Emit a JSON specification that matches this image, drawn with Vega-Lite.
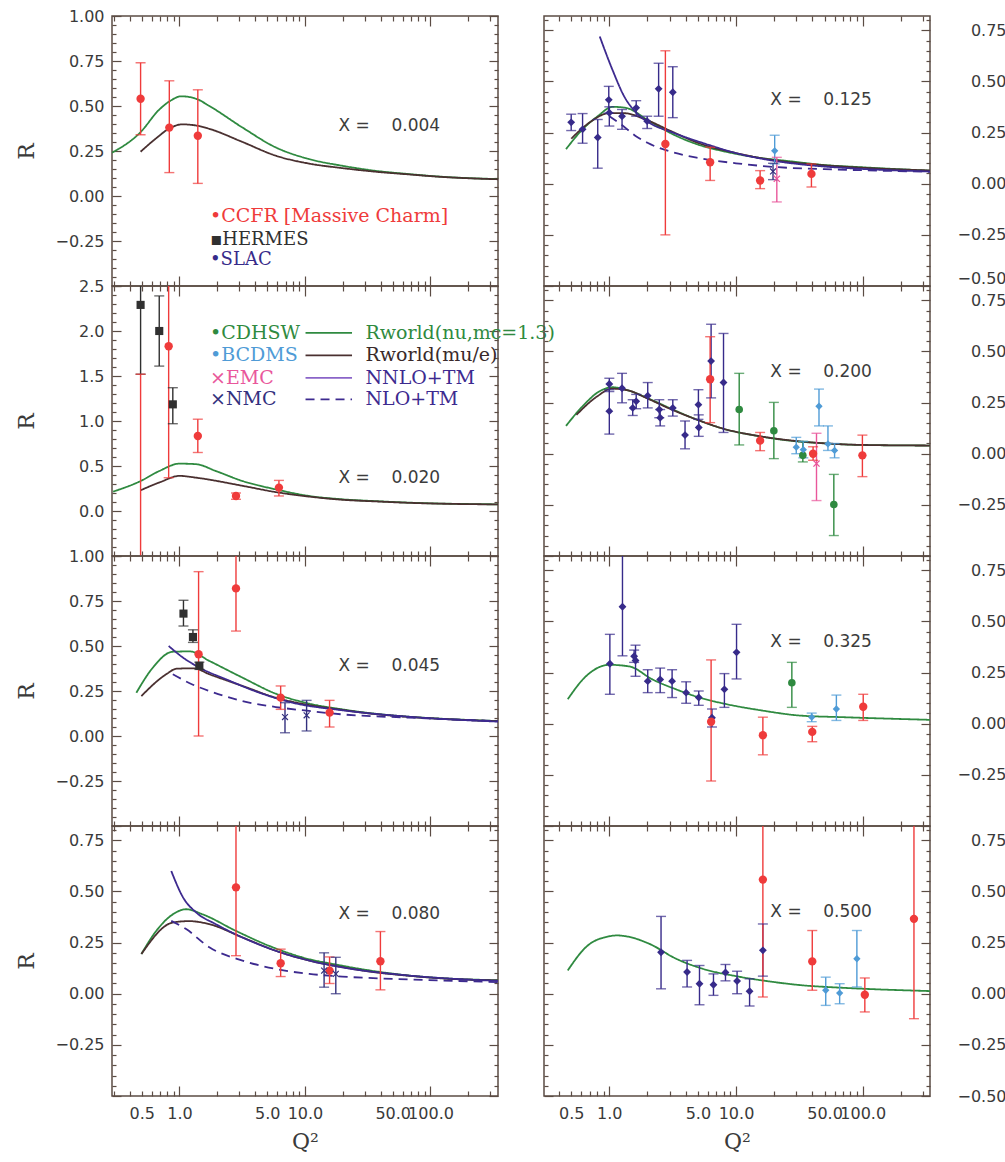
{
"$schema":"https://vega.github.io/schema/vega-lite/v6.json",
"padding":{"left":14,"top":7,"right":2,"bottom":2},
"background":"white",
"datasets":{
"crv":[
{"xbj":"0.004","series":"Rworld(nu,mc=1.3)","q2":0.29,"r":0.24},{"xbj":"0.004","series":"Rworld(nu,mc=1.3)","q2":0.49,"r":0.355},{"xbj":"0.004","series":"Rworld(nu,mc=1.3)","q2":0.69,"r":0.48},{"xbj":"0.004","series":"Rworld(nu,mc=1.3)","q2":0.85,"r":0.53},{"xbj":"0.004","series":"Rworld(nu,mc=1.3)","q2":1.03,"r":0.554},{"xbj":"0.004","series":"Rworld(nu,mc=1.3)","q2":1.36,"r":0.54},{"xbj":"0.004","series":"Rworld(nu,mc=1.3)","q2":1.73,"r":0.5},{"xbj":"0.004","series":"Rworld(nu,mc=1.3)","q2":3.18,"r":0.38},{"xbj":"0.004","series":"Rworld(nu,mc=1.3)","q2":5.85,"r":0.27},{"xbj":"0.004","series":"Rworld(nu,mc=1.3)","q2":10.8,"r":0.205},{"xbj":"0.004","series":"Rworld(nu,mc=1.3)","q2":19.8,"r":0.168},{"xbj":"0.004","series":"Rworld(nu,mc=1.3)","q2":36.4,"r":0.14},{"xbj":"0.004","series":"Rworld(nu,mc=1.3)","q2":66.9,"r":0.122},{"xbj":"0.004","series":"Rworld(nu,mc=1.3)","q2":123,"r":0.107},{"xbj":"0.004","series":"Rworld(nu,mc=1.3)","q2":345,"r":0.094},
{"xbj":"0.004","series":"Rworld(mu/e)","q2":0.49,"r":0.246},{"xbj":"0.004","series":"Rworld(mu/e)","q2":0.65,"r":0.32},{"xbj":"0.004","series":"Rworld(mu/e)","q2":0.83,"r":0.375},{"xbj":"0.004","series":"Rworld(mu/e)","q2":1.05,"r":0.398},{"xbj":"0.004","series":"Rworld(mu/e)","q2":1.4,"r":0.39},{"xbj":"0.004","series":"Rworld(mu/e)","q2":1.75,"r":0.372},{"xbj":"0.004","series":"Rworld(mu/e)","q2":3.18,"r":0.3},{"xbj":"0.004","series":"Rworld(mu/e)","q2":5.85,"r":0.224},{"xbj":"0.004","series":"Rworld(mu/e)","q2":10.8,"r":0.18},{"xbj":"0.004","series":"Rworld(mu/e)","q2":19.8,"r":0.155},{"xbj":"0.004","series":"Rworld(mu/e)","q2":36.4,"r":0.135},{"xbj":"0.004","series":"Rworld(mu/e)","q2":66.9,"r":0.12},{"xbj":"0.004","series":"Rworld(mu/e)","q2":123,"r":0.106},{"xbj":"0.004","series":"Rworld(mu/e)","q2":345,"r":0.093},
{"xbj":"0.020","series":"Rworld(nu,mc=1.3)","q2":0.296,"r":0.215},{"xbj":"0.020","series":"Rworld(nu,mc=1.3)","q2":0.49,"r":0.333},{"xbj":"0.020","series":"Rworld(nu,mc=1.3)","q2":0.69,"r":0.444},{"xbj":"0.020","series":"Rworld(nu,mc=1.3)","q2":1.0,"r":0.526},{"xbj":"0.020","series":"Rworld(nu,mc=1.3)","q2":1.36,"r":0.52},{"xbj":"0.020","series":"Rworld(nu,mc=1.3)","q2":1.95,"r":0.444},{"xbj":"0.020","series":"Rworld(nu,mc=1.3)","q2":3.18,"r":0.333},{"xbj":"0.020","series":"Rworld(nu,mc=1.3)","q2":5.85,"r":0.24},{"xbj":"0.020","series":"Rworld(nu,mc=1.3)","q2":10.8,"r":0.167},{"xbj":"0.020","series":"Rworld(nu,mc=1.3)","q2":19.8,"r":0.13},{"xbj":"0.020","series":"Rworld(nu,mc=1.3)","q2":36,"r":0.11},{"xbj":"0.020","series":"Rworld(nu,mc=1.3)","q2":67,"r":0.093},{"xbj":"0.020","series":"Rworld(nu,mc=1.3)","q2":345,"r":0.074},
{"xbj":"0.020","series":"Rworld(mu/e)","q2":0.49,"r":0.23},{"xbj":"0.020","series":"Rworld(mu/e)","q2":0.7,"r":0.32},{"xbj":"0.020","series":"Rworld(mu/e)","q2":1.0,"r":0.39},{"xbj":"0.020","series":"Rworld(mu/e)","q2":1.36,"r":0.37},{"xbj":"0.020","series":"Rworld(mu/e)","q2":3.18,"r":0.28},{"xbj":"0.020","series":"Rworld(mu/e)","q2":5.85,"r":0.21},{"xbj":"0.020","series":"Rworld(mu/e)","q2":10.8,"r":0.16},{"xbj":"0.020","series":"Rworld(mu/e)","q2":19.8,"r":0.125},{"xbj":"0.020","series":"Rworld(mu/e)","q2":36,"r":0.107},{"xbj":"0.020","series":"Rworld(mu/e)","q2":67,"r":0.091},{"xbj":"0.020","series":"Rworld(mu/e)","q2":345,"r":0.073},
{"xbj":"0.045","series":"Rworld(nu,mc=1.3)","q2":0.453,"r":0.24},{"xbj":"0.045","series":"Rworld(nu,mc=1.3)","q2":0.614,"r":0.38},{"xbj":"0.045","series":"Rworld(nu,mc=1.3)","q2":0.88,"r":0.468},{"xbj":"0.045","series":"Rworld(nu,mc=1.3)","q2":1.21,"r":0.47},{"xbj":"0.045","series":"Rworld(nu,mc=1.3)","q2":1.73,"r":0.417},{"xbj":"0.045","series":"Rworld(nu,mc=1.3)","q2":3.18,"r":0.324},{"xbj":"0.045","series":"Rworld(nu,mc=1.3)","q2":5.85,"r":0.235},{"xbj":"0.045","series":"Rworld(nu,mc=1.3)","q2":10.8,"r":0.18},{"xbj":"0.045","series":"Rworld(nu,mc=1.3)","q2":19.8,"r":0.148},{"xbj":"0.045","series":"Rworld(nu,mc=1.3)","q2":36,"r":0.124},{"xbj":"0.045","series":"Rworld(nu,mc=1.3)","q2":67,"r":0.107},{"xbj":"0.045","series":"Rworld(nu,mc=1.3)","q2":123,"r":0.096},{"xbj":"0.045","series":"Rworld(nu,mc=1.3)","q2":345,"r":0.083},
{"xbj":"0.045","series":"Rworld(mu/e)","q2":0.497,"r":0.222},{"xbj":"0.045","series":"Rworld(mu/e)","q2":0.784,"r":0.343},{"xbj":"0.045","series":"Rworld(mu/e)","q2":0.95,"r":0.374},{"xbj":"0.045","series":"Rworld(mu/e)","q2":1.3,"r":0.376},{"xbj":"0.045","series":"Rworld(mu/e)","q2":1.73,"r":0.343},{"xbj":"0.045","series":"Rworld(mu/e)","q2":3.18,"r":0.278},{"xbj":"0.045","series":"Rworld(mu/e)","q2":5.85,"r":0.213},{"xbj":"0.045","series":"Rworld(mu/e)","q2":10.8,"r":0.172},{"xbj":"0.045","series":"Rworld(mu/e)","q2":19.8,"r":0.145},{"xbj":"0.045","series":"Rworld(mu/e)","q2":36,"r":0.122},{"xbj":"0.045","series":"Rworld(mu/e)","q2":67,"r":0.106},{"xbj":"0.045","series":"Rworld(mu/e)","q2":123,"r":0.095},{"xbj":"0.045","series":"Rworld(mu/e)","q2":345,"r":0.082},
{"xbj":"0.045","series":"NNLO+TM","q2":0.82,"r":0.5},{"xbj":"0.045","series":"NNLO+TM","q2":1.07,"r":0.435},{"xbj":"0.045","series":"NNLO+TM","q2":1.44,"r":0.38},{"xbj":"0.045","series":"NNLO+TM","q2":2.35,"r":0.315},{"xbj":"0.045","series":"NNLO+TM","q2":4.31,"r":0.241},{"xbj":"0.045","series":"NNLO+TM","q2":7.96,"r":0.185},{"xbj":"0.045","series":"NNLO+TM","q2":19.8,"r":0.143},{"xbj":"0.045","series":"NNLO+TM","q2":67,"r":0.107},{"xbj":"0.045","series":"NNLO+TM","q2":345,"r":0.08},
{"xbj":"0.045","series":"NLO+TM","q2":0.885,"r":0.343},{"xbj":"0.045","series":"NLO+TM","q2":1.28,"r":0.285},{"xbj":"0.045","series":"NLO+TM","q2":1.73,"r":0.25},{"xbj":"0.045","series":"NLO+TM","q2":3.18,"r":0.194},{"xbj":"0.045","series":"NLO+TM","q2":5.85,"r":0.161},{"xbj":"0.045","series":"NLO+TM","q2":10.8,"r":0.139},{"xbj":"0.045","series":"NLO+TM","q2":19.8,"r":0.12},{"xbj":"0.045","series":"NLO+TM","q2":67,"r":0.102},{"xbj":"0.045","series":"NLO+TM","q2":345,"r":0.083},
{"xbj":"0.080","series":"Rworld(nu,mc=1.3)","q2":0.497,"r":0.194},{"xbj":"0.080","series":"Rworld(nu,mc=1.3)","q2":0.653,"r":0.307},{"xbj":"0.080","series":"Rworld(nu,mc=1.3)","q2":0.885,"r":0.388},{"xbj":"0.080","series":"Rworld(nu,mc=1.3)","q2":1.13,"r":0.413},{"xbj":"0.080","series":"Rworld(nu,mc=1.3)","q2":1.53,"r":0.388},{"xbj":"0.080","series":"Rworld(nu,mc=1.3)","q2":2.82,"r":0.307},{"xbj":"0.080","series":"Rworld(nu,mc=1.3)","q2":5.18,"r":0.234},{"xbj":"0.080","series":"Rworld(nu,mc=1.3)","q2":9.5,"r":0.178},{"xbj":"0.080","series":"Rworld(nu,mc=1.3)","q2":19.8,"r":0.137},{"xbj":"0.080","series":"Rworld(nu,mc=1.3)","q2":36,"r":0.11},{"xbj":"0.080","series":"Rworld(nu,mc=1.3)","q2":67,"r":0.089},{"xbj":"0.080","series":"Rworld(nu,mc=1.3)","q2":123,"r":0.076},{"xbj":"0.080","series":"Rworld(nu,mc=1.3)","q2":345,"r":0.066},
{"xbj":"0.080","series":"Rworld(mu/e)","q2":0.497,"r":0.194},{"xbj":"0.080","series":"Rworld(mu/e)","q2":0.885,"r":0.348},{"xbj":"0.080","series":"Rworld(mu/e)","q2":1.19,"r":0.355},{"xbj":"0.080","series":"Rworld(mu/e)","q2":1.73,"r":0.34},{"xbj":"0.080","series":"Rworld(mu/e)","q2":3.18,"r":0.275},{"xbj":"0.080","series":"Rworld(mu/e)","q2":5.85,"r":0.21},{"xbj":"0.080","series":"Rworld(mu/e)","q2":10.8,"r":0.162},{"xbj":"0.080","series":"Rworld(mu/e)","q2":19.8,"r":0.13},{"xbj":"0.080","series":"Rworld(mu/e)","q2":36,"r":0.105},{"xbj":"0.080","series":"Rworld(mu/e)","q2":67,"r":0.088},{"xbj":"0.080","series":"Rworld(mu/e)","q2":123,"r":0.075},{"xbj":"0.080","series":"Rworld(mu/e)","q2":345,"r":0.065},
{"xbj":"0.080","series":"NNLO+TM","q2":0.86,"r":0.6},{"xbj":"0.080","series":"NNLO+TM","q2":1.07,"r":0.47},{"xbj":"0.080","series":"NNLO+TM","q2":1.36,"r":0.397},{"xbj":"0.080","series":"NNLO+TM","q2":1.95,"r":0.34},{"xbj":"0.080","series":"NNLO+TM","q2":3.18,"r":0.275},{"xbj":"0.080","series":"NNLO+TM","q2":5.85,"r":0.21},{"xbj":"0.080","series":"NNLO+TM","q2":10.8,"r":0.162},{"xbj":"0.080","series":"NNLO+TM","q2":19.8,"r":0.129},{"xbj":"0.080","series":"NNLO+TM","q2":67,"r":0.089},{"xbj":"0.080","series":"NNLO+TM","q2":345,"r":0.063},
{"xbj":"0.080","series":"NLO+TM","q2":0.86,"r":0.356},{"xbj":"0.080","series":"NLO+TM","q2":1.13,"r":0.316},{"xbj":"0.080","series":"NLO+TM","q2":1.73,"r":0.227},{"xbj":"0.080","series":"NLO+TM","q2":3.18,"r":0.162},{"xbj":"0.080","series":"NLO+TM","q2":5.85,"r":0.121},{"xbj":"0.080","series":"NLO+TM","q2":10.8,"r":0.097},{"xbj":"0.080","series":"NLO+TM","q2":19.8,"r":0.084},{"xbj":"0.080","series":"NLO+TM","q2":67,"r":0.07},{"xbj":"0.080","series":"NLO+TM","q2":345,"r":0.057},
{"xbj":"0.125","series":"Rworld(nu,mc=1.3)","q2":0.455,"r":0.169},{"xbj":"0.125","series":"Rworld(nu,mc=1.3)","q2":0.615,"r":0.266},{"xbj":"0.125","series":"Rworld(nu,mc=1.3)","q2":0.81,"r":0.33},{"xbj":"0.125","series":"Rworld(nu,mc=1.3)","q2":1.06,"r":0.376},{"xbj":"0.125","series":"Rworld(nu,mc=1.3)","q2":1.35,"r":0.371},{"xbj":"0.125","series":"Rworld(nu,mc=1.3)","q2":2.07,"r":0.306},{"xbj":"0.125","series":"Rworld(nu,mc=1.3)","q2":3.17,"r":0.242},{"xbj":"0.125","series":"Rworld(nu,mc=1.3)","q2":5.15,"r":0.189},{"xbj":"0.125","series":"Rworld(nu,mc=1.3)","q2":8.37,"r":0.156},{"xbj":"0.125","series":"Rworld(nu,mc=1.3)","q2":14.4,"r":0.129},{"xbj":"0.125","series":"Rworld(nu,mc=1.3)","q2":26.5,"r":0.11},{"xbj":"0.125","series":"Rworld(nu,mc=1.3)","q2":48.7,"r":0.092},{"xbj":"0.125","series":"Rworld(nu,mc=1.3)","q2":95,"r":0.081},{"xbj":"0.125","series":"Rworld(nu,mc=1.3)","q2":339,"r":0.064},
{"xbj":"0.125","series":"Rworld(mu/e)","q2":0.5,"r":0.22},{"xbj":"0.125","series":"Rworld(mu/e)","q2":0.7,"r":0.3},{"xbj":"0.125","series":"Rworld(mu/e)","q2":1.0,"r":0.345},{"xbj":"0.125","series":"Rworld(mu/e)","q2":1.3,"r":0.345},{"xbj":"0.125","series":"Rworld(mu/e)","q2":2.0,"r":0.31},{"xbj":"0.125","series":"Rworld(mu/e)","q2":3.0,"r":0.26},{"xbj":"0.125","series":"Rworld(mu/e)","q2":5.0,"r":0.2},{"xbj":"0.125","series":"Rworld(mu/e)","q2":10,"r":0.15},{"xbj":"0.125","series":"Rworld(mu/e)","q2":20,"r":0.115},{"xbj":"0.125","series":"Rworld(mu/e)","q2":50,"r":0.09},{"xbj":"0.125","series":"Rworld(mu/e)","q2":100,"r":0.078},{"xbj":"0.125","series":"Rworld(mu/e)","q2":339,"r":0.065},
{"xbj":"0.125","series":"NNLO+TM","q2":0.84,"r":0.72},{"xbj":"0.125","series":"NNLO+TM","q2":1.06,"r":0.556},{"xbj":"0.125","series":"NNLO+TM","q2":1.31,"r":0.427},{"xbj":"0.125","series":"NNLO+TM","q2":1.63,"r":0.347},{"xbj":"0.125","series":"NNLO+TM","q2":2.07,"r":0.298},{"xbj":"0.125","series":"NNLO+TM","q2":3.17,"r":0.25},{"xbj":"0.125","series":"NNLO+TM","q2":5.8,"r":0.194},{"xbj":"0.125","series":"NNLO+TM","q2":10.7,"r":0.145},{"xbj":"0.125","series":"NNLO+TM","q2":19.5,"r":0.113},{"xbj":"0.125","series":"NNLO+TM","q2":35.9,"r":0.092},{"xbj":"0.125","series":"NNLO+TM","q2":95,"r":0.073},{"xbj":"0.125","series":"NNLO+TM","q2":339,"r":0.06},
{"xbj":"0.125","series":"NLO+TM","q2":1.0,"r":0.33},{"xbj":"0.125","series":"NLO+TM","q2":1.3,"r":0.28},{"xbj":"0.125","series":"NLO+TM","q2":1.6,"r":0.235},{"xbj":"0.125","series":"NLO+TM","q2":2.0,"r":0.2},{"xbj":"0.125","series":"NLO+TM","q2":3.0,"r":0.158},{"xbj":"0.125","series":"NLO+TM","q2":5.0,"r":0.126},{"xbj":"0.125","series":"NLO+TM","q2":10,"r":0.1},{"xbj":"0.125","series":"NLO+TM","q2":20,"r":0.082},{"xbj":"0.125","series":"NLO+TM","q2":50,"r":0.071},{"xbj":"0.125","series":"NLO+TM","q2":100,"r":0.066},{"xbj":"0.125","series":"NLO+TM","q2":339,"r":0.058},
{"xbj":"0.200","series":"Rworld(nu,mc=1.3)","q2":0.455,"r":0.136},{"xbj":"0.200","series":"Rworld(nu,mc=1.3)","q2":0.615,"r":0.232},{"xbj":"0.200","series":"Rworld(nu,mc=1.3)","q2":0.83,"r":0.304},{"xbj":"0.200","series":"Rworld(nu,mc=1.3)","q2":1.06,"r":0.325},{"xbj":"0.200","series":"Rworld(nu,mc=1.3)","q2":1.35,"r":0.313},{"xbj":"0.200","series":"Rworld(nu,mc=1.3)","q2":2.07,"r":0.268},{"xbj":"0.200","series":"Rworld(nu,mc=1.3)","q2":3.17,"r":0.216},{"xbj":"0.200","series":"Rworld(nu,mc=1.3)","q2":4.85,"r":0.168},{"xbj":"0.200","series":"Rworld(nu,mc=1.3)","q2":7.86,"r":0.123},{"xbj":"0.200","series":"Rworld(nu,mc=1.3)","q2":14.4,"r":0.088},{"xbj":"0.200","series":"Rworld(nu,mc=1.3)","q2":26.5,"r":0.064},{"xbj":"0.200","series":"Rworld(nu,mc=1.3)","q2":48.7,"r":0.051},{"xbj":"0.200","series":"Rworld(nu,mc=1.3)","q2":95,"r":0.043},{"xbj":"0.200","series":"Rworld(nu,mc=1.3)","q2":339,"r":0.04},
{"xbj":"0.200","series":"Rworld(mu/e)","q2":0.55,"r":0.19},{"xbj":"0.200","series":"Rworld(mu/e)","q2":0.8,"r":0.28},{"xbj":"0.200","series":"Rworld(mu/e)","q2":1.05,"r":0.318},{"xbj":"0.200","series":"Rworld(mu/e)","q2":1.4,"r":0.31},{"xbj":"0.200","series":"Rworld(mu/e)","q2":2.0,"r":0.27},{"xbj":"0.200","series":"Rworld(mu/e)","q2":3.0,"r":0.22},{"xbj":"0.200","series":"Rworld(mu/e)","q2":5.0,"r":0.165},{"xbj":"0.200","series":"Rworld(mu/e)","q2":8.0,"r":0.122},{"xbj":"0.200","series":"Rworld(mu/e)","q2":15,"r":0.087},{"xbj":"0.200","series":"Rworld(mu/e)","q2":30,"r":0.062},{"xbj":"0.200","series":"Rworld(mu/e)","q2":50,"r":0.051},{"xbj":"0.200","series":"Rworld(mu/e)","q2":100,"r":0.043},{"xbj":"0.200","series":"Rworld(mu/e)","q2":339,"r":0.04},
{"xbj":"0.325","series":"Rworld(nu,mc=1.3)","q2":0.47,"r":0.12},{"xbj":"0.325","series":"Rworld(nu,mc=1.3)","q2":0.654,"r":0.232},{"xbj":"0.325","series":"Rworld(nu,mc=1.3)","q2":1.0,"r":0.288},{"xbj":"0.325","series":"Rworld(nu,mc=1.3)","q2":1.44,"r":0.28},{"xbj":"0.325","series":"Rworld(nu,mc=1.3)","q2":2.2,"r":0.216},{"xbj":"0.325","series":"Rworld(nu,mc=1.3)","q2":3.37,"r":0.168},{"xbj":"0.325","series":"Rworld(nu,mc=1.3)","q2":5.15,"r":0.128},{"xbj":"0.325","series":"Rworld(nu,mc=1.3)","q2":8.37,"r":0.096},{"xbj":"0.325","series":"Rworld(nu,mc=1.3)","q2":16.3,"r":0.064},{"xbj":"0.325","series":"Rworld(nu,mc=1.3)","q2":31.8,"r":0.04},{"xbj":"0.325","series":"Rworld(nu,mc=1.3)","q2":70,"r":0.032},{"xbj":"0.325","series":"Rworld(nu,mc=1.3)","q2":339,"r":0.019},
{"xbj":"0.500","series":"Rworld(nu,mc=1.3)","q2":0.47,"r":0.114},{"xbj":"0.500","series":"Rworld(nu,mc=1.3)","q2":0.654,"r":0.228},{"xbj":"0.500","series":"Rworld(nu,mc=1.3)","q2":1.0,"r":0.281},{"xbj":"0.500","series":"Rworld(nu,mc=1.3)","q2":1.15,"r":0.285},{"xbj":"0.500","series":"Rworld(nu,mc=1.3)","q2":1.35,"r":0.281},{"xbj":"0.500","series":"Rworld(nu,mc=1.3)","q2":2.07,"r":0.244},{"xbj":"0.500","series":"Rworld(nu,mc=1.3)","q2":3.37,"r":0.171},{"xbj":"0.500","series":"Rworld(nu,mc=1.3)","q2":5.47,"r":0.122},{"xbj":"0.500","series":"Rworld(nu,mc=1.3)","q2":10.0,"r":0.086},{"xbj":"0.500","series":"Rworld(nu,mc=1.3)","q2":18.4,"r":0.06},{"xbj":"0.500","series":"Rworld(nu,mc=1.3)","q2":33.7,"r":0.041},{"xbj":"0.500","series":"Rworld(nu,mc=1.3)","q2":70,"r":0.029},{"xbj":"0.500","series":"Rworld(nu,mc=1.3)","q2":339,"r":0.013}
],
"pts":[
{"xbj":"0.004","series":"CCFR","q2":0.49,"r":0.54,"lo":0.34,"hi":0.74},{"xbj":"0.004","series":"CCFR","q2":0.83,"r":0.38,"lo":0.13,"hi":0.64},{"xbj":"0.004","series":"CCFR","q2":1.4,"r":0.335,"lo":0.07,"hi":0.59},
{"xbj":"0.020","series":"HERMES","q2":0.49,"r":2.29,"lo":1.52,"hi":3.1},{"xbj":"0.020","series":"HERMES","q2":0.69,"r":2.0,"lo":1.61,"hi":2.39},{"xbj":"0.020","series":"HERMES","q2":0.885,"r":1.185,"lo":0.97,"hi":1.37},
{"xbj":"0.020","series":"CCFR","q2":0.49,"r":-1.0,"lo":-2.0,"hi":1.52},{"xbj":"0.020","series":"CCFR","q2":0.82,"r":1.83,"lo":0.37,"hi":3.2},{"xbj":"0.020","series":"CCFR","q2":1.4,"r":0.833,"lo":0.65,"hi":1.02},{"xbj":"0.020","series":"CCFR","q2":2.82,"r":0.167,"lo":0.13,"hi":0.2},{"xbj":"0.020","series":"CCFR","q2":6.2,"r":0.26,"lo":0.167,"hi":0.34},
{"xbj":"0.045","series":"HERMES","q2":1.076,"r":0.68,"lo":0.611,"hi":0.754},{"xbj":"0.045","series":"HERMES","q2":1.28,"r":0.55,"lo":0.52,"hi":0.59},{"xbj":"0.045","series":"HERMES","q2":1.44,"r":0.39,"lo":0.37,"hi":0.41},
{"xbj":"0.045","series":"CCFR","q2":1.42,"r":0.454,"lo":0.0,"hi":0.913},{"xbj":"0.045","series":"CCFR","q2":2.82,"r":0.82,"lo":0.583,"hi":1.05},{"xbj":"0.045","series":"CCFR","q2":6.4,"r":0.213,"lo":0.148,"hi":0.278},{"xbj":"0.045","series":"CCFR","q2":15.7,"r":0.13,"lo":0.05,"hi":0.198},
{"xbj":"0.045","series":"NMC","q2":6.93,"r":0.105,"lo":0.018,"hi":0.185},{"xbj":"0.045","series":"NMC","q2":10.3,"r":0.115,"lo":0.028,"hi":0.198},
{"xbj":"0.080","series":"CCFR","q2":2.82,"r":0.52,"lo":0.186,"hi":0.85},{"xbj":"0.080","series":"CCFR","q2":6.4,"r":0.149,"lo":0.084,"hi":0.218},{"xbj":"0.080","series":"CCFR","q2":15.7,"r":0.113,"lo":0.05,"hi":0.18},{"xbj":"0.080","series":"CCFR","q2":39.9,"r":0.159,"lo":0.019,"hi":0.304},
{"xbj":"0.080","series":"NMC","q2":14.2,"r":0.113,"lo":0.032,"hi":0.2},{"xbj":"0.080","series":"NMC","q2":17.6,"r":0.097,"lo":0.0,"hi":0.178},
{"xbj":"0.125","series":"SLAC","q2":0.5,"r":0.3,"lo":0.26,"hi":0.34},{"xbj":"0.125","series":"SLAC","q2":0.615,"r":0.266,"lo":0.198,"hi":0.343},{"xbj":"0.125","series":"SLAC","q2":0.81,"r":0.226,"lo":0.076,"hi":0.314},{"xbj":"0.125","series":"SLAC","q2":0.99,"r":0.41,"lo":0.345,"hi":0.476},{"xbj":"0.125","series":"SLAC","q2":1.0,"r":0.347,"lo":0.282,"hi":0.376},{"xbj":"0.125","series":"SLAC","q2":1.26,"r":0.33,"lo":0.266,"hi":0.363},{"xbj":"0.125","series":"SLAC","q2":1.63,"r":0.371,"lo":0.33,"hi":0.406},{"xbj":"0.125","series":"SLAC","q2":1.99,"r":0.306,"lo":0.27,"hi":0.33},{"xbj":"0.125","series":"SLAC","q2":2.45,"r":0.464,"lo":0.33,"hi":0.589},{"xbj":"0.125","series":"SLAC","q2":3.17,"r":0.447,"lo":0.323,"hi":0.572},
{"xbj":"0.125","series":"CCFR","q2":2.77,"r":0.194,"lo":-0.25,"hi":0.65},{"xbj":"0.125","series":"CCFR","q2":6.25,"r":0.105,"lo":0.016,"hi":0.178},{"xbj":"0.125","series":"CCFR","q2":15.5,"r":0.016,"lo":-0.024,"hi":0.064},{"xbj":"0.125","series":"CCFR","q2":39.4,"r":0.048,"lo":-0.016,"hi":0.097},
{"xbj":"0.125","series":"BCDMS","q2":20.2,"r":0.161,"lo":0.097,"hi":0.237},{"xbj":"0.125","series":"EMC","q2":21.0,"r":0.024,"lo":-0.089,"hi":0.129},{"xbj":"0.125","series":"NMC","q2":19.6,"r":0.06,"lo":0.02,"hi":0.1},
{"xbj":"0.200","series":"SLAC","q2":1.0,"r":0.341,"lo":0.304,"hi":0.369},{"xbj":"0.200","series":"SLAC","q2":1.0,"r":0.208,"lo":0.096,"hi":0.313},{"xbj":"0.200","series":"SLAC","q2":1.26,"r":0.32,"lo":0.249,"hi":0.393},{"xbj":"0.200","series":"SLAC","q2":1.53,"r":0.224,"lo":0.187,"hi":0.264},{"xbj":"0.200","series":"SLAC","q2":1.63,"r":0.256,"lo":0.22,"hi":0.29},{"xbj":"0.200","series":"SLAC","q2":2.01,"r":0.284,"lo":0.224,"hi":0.348},{"xbj":"0.200","series":"SLAC","q2":2.48,"r":0.216,"lo":0.176,"hi":0.264},{"xbj":"0.200","series":"SLAC","q2":2.52,"r":0.176,"lo":0.136,"hi":0.216},{"xbj":"0.200","series":"SLAC","q2":3.17,"r":0.224,"lo":0.184,"hi":0.264},{"xbj":"0.200","series":"SLAC","q2":3.96,"r":0.091,"lo":0.024,"hi":0.16},{"xbj":"0.200","series":"SLAC","q2":5.05,"r":0.24,"lo":0.168,"hi":0.313},{"xbj":"0.200","series":"SLAC","q2":5.08,"r":0.128,"lo":0.085,"hi":0.19},{"xbj":"0.200","series":"SLAC","q2":6.36,"r":0.453,"lo":0.273,"hi":0.633},{"xbj":"0.200","series":"SLAC","q2":7.97,"r":0.348,"lo":0.104,"hi":0.588},
{"xbj":"0.200","series":"CCFR","q2":6.25,"r":0.364,"lo":0.152,"hi":0.572},{"xbj":"0.200","series":"CCFR","q2":15.5,"r":0.064,"lo":0.015,"hi":0.104},{"xbj":"0.200","series":"CCFR","q2":40.6,"r":0.0,"lo":-0.032,"hi":0.034},{"xbj":"0.200","series":"CCFR","q2":99.5,"r":-0.008,"lo":-0.112,"hi":0.091},
{"xbj":"0.200","series":"CDHSW","q2":10.6,"r":0.216,"lo":0.043,"hi":0.393},{"xbj":"0.200","series":"CDHSW","q2":19.9,"r":0.112,"lo":-0.024,"hi":0.251},{"xbj":"0.200","series":"CDHSW","q2":33.7,"r":-0.008,"lo":-0.04,"hi":0.06},{"xbj":"0.200","series":"CDHSW","q2":59.2,"r":-0.248,"lo":-0.4,"hi":-0.101},
{"xbj":"0.200","series":"BCDMS","q2":29.9,"r":0.032,"lo":0.0,"hi":0.08},{"xbj":"0.200","series":"BCDMS","q2":34,"r":0.02,"lo":-0.02,"hi":0.06},{"xbj":"0.200","series":"BCDMS","q2":45.2,"r":0.232,"lo":0.136,"hi":0.316},{"xbj":"0.200","series":"BCDMS","q2":53.2,"r":0.048,"lo":0.016,"hi":0.136},{"xbj":"0.200","series":"BCDMS","q2":60,"r":0.016,"lo":-0.02,"hi":0.05},
{"xbj":"0.200","series":"EMC","q2":43.2,"r":-0.048,"lo":-0.229,"hi":0.1},
{"xbj":"0.325","series":"SLAC","q2":1.01,"r":0.293,"lo":0.144,"hi":0.437},{"xbj":"0.325","series":"SLAC","q2":1.27,"r":0.572,"lo":0.332,"hi":0.85},{"xbj":"0.325","series":"SLAC","q2":1.57,"r":0.33,"lo":0.3,"hi":0.36},{"xbj":"0.325","series":"SLAC","q2":1.61,"r":0.309,"lo":0.232,"hi":0.384},{"xbj":"0.325","series":"SLAC","q2":2.01,"r":0.208,"lo":0.152,"hi":0.264},{"xbj":"0.325","series":"SLAC","q2":2.52,"r":0.216,"lo":0.152,"hi":0.272},{"xbj":"0.325","series":"SLAC","q2":3.13,"r":0.208,"lo":0.128,"hi":0.264},{"xbj":"0.325","series":"SLAC","q2":4.04,"r":0.152,"lo":0.1,"hi":0.205},{"xbj":"0.325","series":"SLAC","q2":5.08,"r":0.128,"lo":0.09,"hi":0.16},{"xbj":"0.325","series":"SLAC","q2":6.46,"r":0.029,"lo":-0.016,"hi":0.072},{"xbj":"0.325","series":"SLAC","q2":8.1,"r":0.168,"lo":0.08,"hi":0.245},{"xbj":"0.325","series":"SLAC","q2":10.1,"r":0.349,"lo":0.219,"hi":0.486},
{"xbj":"0.325","series":"CCFR","q2":6.36,"r":0.01,"lo":-0.28,"hi":0.312},{"xbj":"0.325","series":"CCFR","q2":16.3,"r":-0.056,"lo":-0.152,"hi":0.032},{"xbj":"0.325","series":"CCFR","q2":40,"r":-0.04,"lo":-0.088,"hi":-0.013},{"xbj":"0.325","series":"CCFR","q2":101,"r":0.083,"lo":0.016,"hi":0.144},
{"xbj":"0.325","series":"CDHSW","q2":27.6,"r":0.2,"lo":0.08,"hi":0.3},{"xbj":"0.325","series":"BCDMS","q2":39.6,"r":0.032,"lo":0.01,"hi":0.052},{"xbj":"0.325","series":"BCDMS","q2":62,"r":0.072,"lo":0.016,"hi":0.14},
{"xbj":"0.500","series":"SLAC","q2":2.56,"r":0.203,"lo":0.024,"hi":0.378},{"xbj":"0.500","series":"SLAC","q2":4.11,"r":0.106,"lo":0.033,"hi":0.163},{"xbj":"0.500","series":"SLAC","q2":5.15,"r":0.049,"lo":-0.054,"hi":0.138},{"xbj":"0.500","series":"SLAC","q2":6.64,"r":0.044,"lo":-0.008,"hi":0.097},{"xbj":"0.500","series":"SLAC","q2":8.26,"r":0.104,"lo":0.063,"hi":0.143},{"xbj":"0.500","series":"SLAC","q2":10.2,"r":0.062,"lo":0.0,"hi":0.11},{"xbj":"0.500","series":"SLAC","q2":12.8,"r":0.012,"lo":-0.06,"hi":0.073},{"xbj":"0.500","series":"SLAC","q2":16.3,"r":0.212,"lo":0.086,"hi":0.341},
{"xbj":"0.500","series":"CCFR","q2":16.3,"r":0.558,"lo":-0.016,"hi":0.9},{"xbj":"0.500","series":"CCFR","q2":40,"r":0.158,"lo":0.017,"hi":0.309},{"xbj":"0.500","series":"CCFR","q2":104,"r":-0.005,"lo":-0.089,"hi":0.077},{"xbj":"0.500","series":"CCFR","q2":254,"r":0.366,"lo":-0.122,"hi":0.85},
{"xbj":"0.500","series":"BCDMS","q2":51.1,"r":0.017,"lo":-0.057,"hi":0.081},{"xbj":"0.500","series":"BCDMS","q2":65.8,"r":0.003,"lo":-0.049,"hi":0.049},{"xbj":"0.500","series":"BCDMS","q2":90,"r":0.171,"lo":0.033,"hi":0.309}
]
},
"columns":2,
"spacing":{"row":0,"column":46},
"bounds":"flush",
"concat":[
{"width":386,"height":270,"resolve":{"axis":{"x":"independent","y":"independent"}},
"layer":[
{"data":{"name":"crv"},"transform":[{"filter":"datum.xbj==='0.004'"}],"mark":{"type":"line","strokeWidth":1.8,"interpolate":"monotone","clip":true},
"encoding":{"x":{"field":"q2","type":"quantitative","scale":{"type":"log","domain":[0.29,345],"nice":false},"axis":{"orient":"bottom","values":[0.3,0.4,0.5,0.6,0.7,0.8,0.9,1,2,3,4,5,6,7,8,9,10,20,30,40,50,60,70,80,90,100,200,300],"labels":false,"tickSize":{"condition":{"test":"indexof([1,10,100],datum.value)>=0","value":-10},"value":-5},"title":null}},
"y":{"field":"r","type":"quantitative","scale":{"domain":[-0.5,1.0],"nice":false,"zero":false},"axis":{"orient":"left","values":[-0.5,-0.45,-0.4,-0.35,-0.3,-0.25,-0.2,-0.15,-0.1,-0.05,0,0.05,0.1,0.15,0.2,0.25,0.3,0.35,0.4,0.45,0.5,0.55,0.6,0.65,0.7,0.75,0.8,0.85,0.9,0.95,1.0],"labelExpr":"datum.value > -0.4 && abs(datum.value*4-round(datum.value*4)) < 0.001 ? format(datum.value,'.2f') : ''","labelPadding":17,"tickSize":{"condition":{"test":"abs(datum.value*4-round(datum.value*4)) < 0.001","value":-9},"value":-4},"title":"R","titleX":-74,"titleY":135}},
"color":{"field":"series","type":"nominal","scale":{"domain":["CCFR","HERMES","SLAC","CDHSW","BCDMS","EMC","NMC","Rworld(nu,mc=1.3)","Rworld(mu/e)","NNLO+TM","NLO+TM"],"range":["#ef3b3b","#303030","#372b8a","#2f8a40","#4f9bd6","#e9579b","#33307e","#2f8a40","#4a3030","#3d2a8f","#3d2a8f"]},"legend":null},
"strokeDash":{"field":"series","type":"nominal","scale":{"domain":["Rworld(nu,mc=1.3)","Rworld(mu/e)","NNLO+TM","NLO+TM"],"range":[[1,0],[1,0],[1,0],[9,6]]},"legend":null}}},
{"data":{"name":"pts"},"transform":[{"filter":"datum.xbj==='0.004'"}],"mark":{"type":"rule","strokeWidth":1.4,"clip":true},
"encoding":{"x":{"field":"q2","type":"quantitative","scale":{"type":"log","domain":[0.29,345],"nice":false},"axis":{"orient":"top","values":[0.3,0.4,0.5,0.6,0.7,0.8,0.9,1,2,3,4,5,6,7,8,9,10,20,30,40,50,60,70,80,90,100,200,300],"labels":false,"tickSize":{"condition":{"test":"indexof([1,10,100],datum.value)>=0","value":-10},"value":-5},"title":null}},
"y":{"field":"lo","type":"quantitative","scale":{"domain":[-0.5,1.0],"nice":false,"zero":false},"axis":{"orient":"right","values":[-0.5,-0.45,-0.4,-0.35,-0.3,-0.25,-0.2,-0.15,-0.1,-0.05,0,0.05,0.1,0.15,0.2,0.25,0.3,0.35,0.4,0.45,0.5,0.55,0.6,0.65,0.7,0.75,0.8,0.85,0.9,0.95,1.0],"labels":false,"tickSize":{"condition":{"test":"abs(datum.value*4-round(datum.value*4)) < 0.001","value":-9},"value":-4},"title":null}},
"y2":{"field":"hi"},
"color":{"field":"series","type":"nominal","legend":null}}},
{"data":{"name":"pts"},"transform":[{"filter":"datum.xbj==='0.004'"}],"mark":{"type":"tick","orient":"horizontal","size":10,"thickness":1.4,"clip":true},
"encoding":{"x":{"field":"q2","type":"quantitative","scale":{"type":"log","domain":[0.29,345],"nice":false},"axis":null},"y":{"field":"lo","type":"quantitative","scale":{"domain":[-0.5,1.0],"nice":false,"zero":false},"axis":null},"color":{"field":"series","type":"nominal","legend":null}}},
{"data":{"name":"pts"},"transform":[{"filter":"datum.xbj==='0.004'"}],"mark":{"type":"tick","orient":"horizontal","size":10,"thickness":1.4,"clip":true},
"encoding":{"x":{"field":"q2","type":"quantitative","scale":{"type":"log","domain":[0.29,345],"nice":false},"axis":null},"y":{"field":"hi","type":"quantitative","scale":{"domain":[-0.5,1.0],"nice":false,"zero":false},"axis":null},"color":{"field":"series","type":"nominal","legend":null}}},
{"data":{"name":"pts"},"transform":[{"filter":"datum.xbj==='0.004'"}],"mark":{"type":"point","filled":true,"opacity":1,"clip":true},
"encoding":{"x":{"field":"q2","type":"quantitative","scale":{"type":"log","domain":[0.29,345],"nice":false},"axis":null},"y":{"field":"r","type":"quantitative","scale":{"domain":[-0.5,1.0],"nice":false,"zero":false},"axis":null},"color":{"field":"series","type":"nominal","legend":null},
"shape":{"field":"series","type":"nominal","scale":{"domain":["CCFR","HERMES","SLAC","CDHSW","BCDMS","EMC","NMC"],"range":["circle","square","diamond","circle","diamond","M-1,-0.75L-0.75,-1L0,-0.25L0.75,-1L1,-0.75L0.25,0L1,0.75L0.75,1L0,0.25L-0.75,1L-1,0.75L-0.25,0Z","M-1,-0.75L-0.75,-1L0,-0.25L0.75,-1L1,-0.75L0.25,0L1,0.75L0.75,1L0,0.25L-0.75,1L-1,0.75L-0.25,0Z"]},"legend":null},
"size":{"field":"series","type":"nominal","scale":{"domain":["CCFR","HERMES","SLAC","CDHSW","BCDMS","EMC","NMC"],"range":[70,45,38,10,36,45,45]},"legend":null}}},
{"data":{"values":[{}]},"mark":{"type":"text","font":"DejaVu Sans","fontSize":17,"color":"#3c3c3c","align":"center","baseline":"middle","text":"X\u00a0=\u00a0\u00a0\u00a0\u00a00.004"},
"encoding":{"x":{"datum":47,"type":"quantitative","scale":{"type":"log","domain":[0.29,345],"nice":false},"axis":null},"y":{"datum":0.39,"type":"quantitative","scale":{"domain":[-0.5,1.0],"nice":false,"zero":false},"axis":null}}},
{"data":{"values":[{}]},"mark":{"type":"text","font":"DejaVu Serif","fontSize":19,"color":"#ef3b3b","align":"left","baseline":"middle","text":"•CCFR [Massive Charm]"},
"encoding":{"x":{"datum":1.75,"type":"quantitative","scale":{"type":"log","domain":[0.29,345],"nice":false},"axis":null},"y":{"datum":-0.11,"type":"quantitative","scale":{"domain":[-0.5,1.0],"nice":false,"zero":false},"axis":null}}},
{"data":{"values":[{}]},"mark":{"type":"text","font":"DejaVu Serif","fontSize":18,"color":"#303030","align":"left","baseline":"middle","text":"▪HERMES"},
"encoding":{"x":{"datum":1.75,"type":"quantitative","scale":{"type":"log","domain":[0.29,345],"nice":false},"axis":null},"y":{"datum":-0.245,"type":"quantitative","scale":{"domain":[-0.5,1.0],"nice":false,"zero":false},"axis":null}}},
{"data":{"values":[{}]},"mark":{"type":"text","font":"DejaVu Serif","fontSize":18,"color":"#372b8a","align":"left","baseline":"middle","text":"•SLAC"},
"encoding":{"x":{"datum":1.75,"type":"quantitative","scale":{"type":"log","domain":[0.29,345],"nice":false},"axis":null},"y":{"datum":-0.357,"type":"quantitative","scale":{"domain":[-0.5,1.0],"nice":false,"zero":false},"axis":null}}}
]},
{"width":386,"height":270,"resolve":{"axis":{"x":"independent","y":"independent"}},
"layer":[
{"data":{"name":"crv"},"transform":[{"filter":"datum.xbj==='0.125'"}],"mark":{"type":"line","strokeWidth":1.8,"interpolate":"monotone","clip":true},
"encoding":{"x":{"field":"q2","type":"quantitative","scale":{"type":"log","domain":[0.305,340],"nice":false},"axis":{"orient":"bottom","values":[0.4,0.5,0.6,0.7,0.8,0.9,1,2,3,4,5,6,7,8,9,10,20,30,40,50,60,70,80,90,100,200,300],"labels":false,"tickSize":{"condition":{"test":"indexof([1,10,100],datum.value)>=0","value":-10},"value":-5},"title":null}},
"y":{"field":"r","type":"quantitative","scale":{"domain":[-0.5,0.82],"nice":false,"zero":false},"axis":{"orient":"right","values":[-0.5,-0.45,-0.4,-0.35,-0.3,-0.25,-0.2,-0.15,-0.1,-0.05,0,0.05,0.1,0.15,0.2,0.25,0.3,0.35,0.4,0.45,0.5,0.55,0.6,0.65,0.7,0.75,0.8],"labelExpr":"abs(datum.value*4-round(datum.value*4)) < 0.001 ? format(datum.value,'.2f') : ''","labelAlign":"right","labelBaseline":{"condition":{"test":"datum.value < -0.4","value":"bottom"},"value":"middle"},"labelPadding":85,"tickSize":{"condition":{"test":"abs(datum.value*4-round(datum.value*4)) < 0.001","value":-9},"value":-4},"title":null}},
"color":{"field":"series","type":"nominal","legend":null},
"strokeDash":{"field":"series","type":"nominal","legend":null}}},
{"data":{"name":"pts"},"transform":[{"filter":"datum.xbj==='0.125'"}],"mark":{"type":"rule","strokeWidth":1.4,"clip":true},
"encoding":{"x":{"field":"q2","type":"quantitative","scale":{"type":"log","domain":[0.305,340],"nice":false},"axis":{"orient":"top","values":[0.4,0.5,0.6,0.7,0.8,0.9,1,2,3,4,5,6,7,8,9,10,20,30,40,50,60,70,80,90,100,200,300],"labels":false,"tickSize":{"condition":{"test":"indexof([1,10,100],datum.value)>=0","value":-10},"value":-5},"title":null}},
"y":{"field":"lo","type":"quantitative","scale":{"domain":[-0.5,0.82],"nice":false,"zero":false},"axis":{"orient":"left","values":[-0.5,-0.45,-0.4,-0.35,-0.3,-0.25,-0.2,-0.15,-0.1,-0.05,0,0.05,0.1,0.15,0.2,0.25,0.3,0.35,0.4,0.45,0.5,0.55,0.6,0.65,0.7,0.75,0.8],"labels":false,"tickSize":{"condition":{"test":"abs(datum.value*4-round(datum.value*4)) < 0.001","value":-9},"value":-4},"title":null}},
"y2":{"field":"hi"},"color":{"field":"series","type":"nominal","legend":null}}},
{"data":{"name":"pts"},"transform":[{"filter":"datum.xbj==='0.125'"}],"mark":{"type":"tick","orient":"horizontal","size":10,"thickness":1.4,"clip":true},
"encoding":{"x":{"field":"q2","type":"quantitative","scale":{"type":"log","domain":[0.305,340],"nice":false},"axis":null},"y":{"field":"lo","type":"quantitative","scale":{"domain":[-0.5,0.82],"nice":false,"zero":false},"axis":null},"color":{"field":"series","type":"nominal","legend":null}}},
{"data":{"name":"pts"},"transform":[{"filter":"datum.xbj==='0.125'"}],"mark":{"type":"tick","orient":"horizontal","size":10,"thickness":1.4,"clip":true},
"encoding":{"x":{"field":"q2","type":"quantitative","scale":{"type":"log","domain":[0.305,340],"nice":false},"axis":null},"y":{"field":"hi","type":"quantitative","scale":{"domain":[-0.5,0.82],"nice":false,"zero":false},"axis":null},"color":{"field":"series","type":"nominal","legend":null}}},
{"data":{"name":"pts"},"transform":[{"filter":"datum.xbj==='0.125'"}],"mark":{"type":"point","filled":true,"opacity":1,"clip":true},
"encoding":{"x":{"field":"q2","type":"quantitative","scale":{"type":"log","domain":[0.305,340],"nice":false},"axis":null},"y":{"field":"r","type":"quantitative","scale":{"domain":[-0.5,0.82],"nice":false,"zero":false},"axis":null},"color":{"field":"series","type":"nominal","legend":null},"shape":{"field":"series","type":"nominal","legend":null},"size":{"field":"series","type":"nominal","legend":null}}},
{"data":{"values":[{}]},"mark":{"type":"text","font":"DejaVu Sans","fontSize":17,"color":"#3c3c3c","align":"center","baseline":"middle","text":"X\u00a0=\u00a0\u00a0\u00a0\u00a00.125"},
"encoding":{"x":{"datum":47,"type":"quantitative","scale":{"type":"log","domain":[0.305,340],"nice":false},"axis":null},"y":{"datum":0.41,"type":"quantitative","scale":{"domain":[-0.5,0.82],"nice":false,"zero":false},"axis":null}}}
]},
{"width":386,"height":270,"resolve":{"axis":{"x":"independent","y":"independent"}},
"layer":[
{"data":{"name":"crv"},"transform":[{"filter":"datum.xbj==='0.020'"}],"mark":{"type":"line","strokeWidth":1.8,"interpolate":"monotone","clip":true},
"encoding":{"x":{"field":"q2","type":"quantitative","scale":{"type":"log","domain":[0.29,345],"nice":false},"axis":{"orient":"bottom","values":[0.3,0.4,0.5,0.6,0.7,0.8,0.9,1,2,3,4,5,6,7,8,9,10,20,30,40,50,60,70,80,90,100,200,300],"labels":false,"tickSize":{"condition":{"test":"indexof([1,10,100],datum.value)>=0","value":-10},"value":-5},"title":null}},
"y":{"field":"r","type":"quantitative","scale":{"domain":[-0.5,2.5],"nice":false,"zero":false},"axis":{"orient":"left","values":[-0.5,-0.4,-0.3,-0.2,-0.1,0,0.1,0.2,0.3,0.4,0.5,0.6,0.7,0.8,0.9,1.0,1.1,1.2,1.3,1.4,1.5,1.6,1.7,1.8,1.9,2.0,2.1,2.2,2.3,2.4,2.5],"labelExpr":"datum.value > -0.4 && abs(datum.value*2-round(datum.value*2)) < 0.001 ? format(datum.value,'.1f') : ''","labelPadding":17,"tickSize":{"condition":{"test":"abs(datum.value*2-round(datum.value*2)) < 0.001","value":-9},"value":-4},"title":"R","titleX":-74,"titleY":135}},
"color":{"field":"series","type":"nominal","legend":null},
"strokeDash":{"field":"series","type":"nominal","legend":null}}},
{"data":{"name":"pts"},"transform":[{"filter":"datum.xbj==='0.020'"}],"mark":{"type":"rule","strokeWidth":1.4,"clip":true},
"encoding":{"x":{"field":"q2","type":"quantitative","scale":{"type":"log","domain":[0.29,345],"nice":false},"axis":{"orient":"top","values":[0.3,0.4,0.5,0.6,0.7,0.8,0.9,1,2,3,4,5,6,7,8,9,10,20,30,40,50,60,70,80,90,100,200,300],"labels":false,"tickSize":{"condition":{"test":"indexof([1,10,100],datum.value)>=0","value":-10},"value":-5},"title":null}},
"y":{"field":"lo","type":"quantitative","scale":{"domain":[-0.5,2.5],"nice":false,"zero":false},"axis":{"orient":"right","values":[-0.5,-0.4,-0.3,-0.2,-0.1,0,0.1,0.2,0.3,0.4,0.5,0.6,0.7,0.8,0.9,1.0,1.1,1.2,1.3,1.4,1.5,1.6,1.7,1.8,1.9,2.0,2.1,2.2,2.3,2.4,2.5],"labels":false,"tickSize":{"condition":{"test":"abs(datum.value*2-round(datum.value*2)) < 0.001","value":-9},"value":-4},"title":null}},
"y2":{"field":"hi"},"color":{"field":"series","type":"nominal","legend":null}}},
{"data":{"name":"pts"},"transform":[{"filter":"datum.xbj==='0.020'"}],"mark":{"type":"tick","orient":"horizontal","size":10,"thickness":1.4,"clip":true},
"encoding":{"x":{"field":"q2","type":"quantitative","scale":{"type":"log","domain":[0.29,345],"nice":false},"axis":null},"y":{"field":"lo","type":"quantitative","scale":{"domain":[-0.5,2.5],"nice":false,"zero":false},"axis":null},"color":{"field":"series","type":"nominal","legend":null}}},
{"data":{"name":"pts"},"transform":[{"filter":"datum.xbj==='0.020'"}],"mark":{"type":"tick","orient":"horizontal","size":10,"thickness":1.4,"clip":true},
"encoding":{"x":{"field":"q2","type":"quantitative","scale":{"type":"log","domain":[0.29,345],"nice":false},"axis":null},"y":{"field":"hi","type":"quantitative","scale":{"domain":[-0.5,2.5],"nice":false,"zero":false},"axis":null},"color":{"field":"series","type":"nominal","legend":null}}},
{"data":{"name":"pts"},"transform":[{"filter":"datum.xbj==='0.020'"}],"mark":{"type":"point","filled":true,"opacity":1,"clip":true},
"encoding":{"x":{"field":"q2","type":"quantitative","scale":{"type":"log","domain":[0.29,345],"nice":false},"axis":null},"y":{"field":"r","type":"quantitative","scale":{"domain":[-0.5,2.5],"nice":false,"zero":false},"axis":null},"color":{"field":"series","type":"nominal","legend":null},"shape":{"field":"series","type":"nominal","legend":null},"size":{"field":"series","type":"nominal","legend":null}}},
{"data":{"values":[{}]},"mark":{"type":"text","font":"DejaVu Sans","fontSize":17,"color":"#3c3c3c","align":"center","baseline":"middle","text":"X\u00a0=\u00a0\u00a0\u00a0\u00a00.020"},
"encoding":{"x":{"datum":47,"type":"quantitative","scale":{"type":"log","domain":[0.29,345],"nice":false},"axis":null},"y":{"datum":0.37,"type":"quantitative","scale":{"domain":[-0.5,2.5],"nice":false,"zero":false},"axis":null}}},
{"data":{"values":[{}]},"mark":{"type":"text","font":"DejaVu Serif","fontSize":19,"color":"#2f8a40","align":"left","baseline":"middle","text":"•CDHSW"},
"encoding":{"x":{"datum":1.75,"type":"quantitative","scale":{"type":"log","domain":[0.29,345],"nice":false},"axis":null},"y":{"datum":1.98,"type":"quantitative","scale":{"domain":[-0.5,2.5],"nice":false,"zero":false},"axis":null}}},
{"data":{"values":[{}]},"mark":{"type":"text","font":"DejaVu Serif","fontSize":19,"color":"#4f9bd6","align":"left","baseline":"middle","text":"•BCDMS"},
"encoding":{"x":{"datum":1.75,"type":"quantitative","scale":{"type":"log","domain":[0.29,345],"nice":false},"axis":null},"y":{"datum":1.73,"type":"quantitative","scale":{"domain":[-0.5,2.5],"nice":false,"zero":false},"axis":null}}},
{"data":{"values":[{}]},"mark":{"type":"text","font":"DejaVu Serif","fontSize":19,"color":"#e9579b","align":"left","baseline":"middle","text":"×EMC"},
"encoding":{"x":{"datum":1.75,"type":"quantitative","scale":{"type":"log","domain":[0.29,345],"nice":false},"axis":null},"y":{"datum":1.48,"type":"quantitative","scale":{"domain":[-0.5,2.5],"nice":false,"zero":false},"axis":null}}},
{"data":{"values":[{}]},"mark":{"type":"text","font":"DejaVu Serif","fontSize":19,"color":"#33307e","align":"left","baseline":"middle","text":"×NMC"},
"encoding":{"x":{"datum":1.75,"type":"quantitative","scale":{"type":"log","domain":[0.29,345],"nice":false},"axis":null},"y":{"datum":1.24,"type":"quantitative","scale":{"domain":[-0.5,2.5],"nice":false,"zero":false},"axis":null}}},
{"data":{"values":[{}]},"mark":{"type":"rule","color":"#2f8a40","strokeWidth":1.8},
"encoding":{"x":{"datum":10.1,"type":"quantitative","scale":{"type":"log","domain":[0.29,345],"nice":false},"axis":null},"x2":{"datum":23.7},"y":{"datum":1.98,"type":"quantitative","scale":{"domain":[-0.5,2.5],"nice":false,"zero":false},"axis":null}}},
{"data":{"values":[{}]},"mark":{"type":"rule","color":"#4a3030","strokeWidth":1.8},
"encoding":{"x":{"datum":10.1,"type":"quantitative","scale":{"type":"log","domain":[0.29,345],"nice":false},"axis":null},"x2":{"datum":23.7},"y":{"datum":1.73,"type":"quantitative","scale":{"domain":[-0.5,2.5],"nice":false,"zero":false},"axis":null}}},
{"data":{"values":[{}]},"mark":{"type":"rule","color":"#8a64c8","strokeWidth":1.8},
"encoding":{"x":{"datum":10.1,"type":"quantitative","scale":{"type":"log","domain":[0.29,345],"nice":false},"axis":null},"x2":{"datum":23.7},"y":{"datum":1.48,"type":"quantitative","scale":{"domain":[-0.5,2.5],"nice":false,"zero":false},"axis":null}}},
{"data":{"values":[{}]},"mark":{"type":"rule","color":"#3d2a8f","strokeWidth":1.8,"strokeDash":[9,6]},
"encoding":{"x":{"datum":10.1,"type":"quantitative","scale":{"type":"log","domain":[0.29,345],"nice":false},"axis":null},"x2":{"datum":23.7},"y":{"datum":1.24,"type":"quantitative","scale":{"domain":[-0.5,2.5],"nice":false,"zero":false},"axis":null}}},
{"data":{"values":[{}]},"mark":{"type":"text","font":"DejaVu Serif","fontSize":19,"color":"#2f8a40","align":"left","baseline":"middle","text":"Rworld(nu,mc=1.3)"},
"encoding":{"x":{"datum":30.3,"type":"quantitative","scale":{"type":"log","domain":[0.29,345],"nice":false},"axis":null},"y":{"datum":1.98,"type":"quantitative","scale":{"domain":[-0.5,2.5],"nice":false,"zero":false},"axis":null}}},
{"data":{"values":[{}]},"mark":{"type":"text","font":"DejaVu Serif","fontSize":19,"color":"#3a2a2a","align":"left","baseline":"middle","text":"Rworld(mu/e)"},
"encoding":{"x":{"datum":30.3,"type":"quantitative","scale":{"type":"log","domain":[0.29,345],"nice":false},"axis":null},"y":{"datum":1.73,"type":"quantitative","scale":{"domain":[-0.5,2.5],"nice":false,"zero":false},"axis":null}}},
{"data":{"values":[{}]},"mark":{"type":"text","font":"DejaVu Serif","fontSize":19,"color":"#3d2a8f","align":"left","baseline":"middle","text":"NNLO+TM"},
"encoding":{"x":{"datum":30.3,"type":"quantitative","scale":{"type":"log","domain":[0.29,345],"nice":false},"axis":null},"y":{"datum":1.48,"type":"quantitative","scale":{"domain":[-0.5,2.5],"nice":false,"zero":false},"axis":null}}},
{"data":{"values":[{}]},"mark":{"type":"text","font":"DejaVu Serif","fontSize":19,"color":"#3d2a8f","align":"left","baseline":"middle","text":"NLO+TM"},
"encoding":{"x":{"datum":30.3,"type":"quantitative","scale":{"type":"log","domain":[0.29,345],"nice":false},"axis":null},"y":{"datum":1.24,"type":"quantitative","scale":{"domain":[-0.5,2.5],"nice":false,"zero":false},"axis":null}}}
]},
{"width":386,"height":270,"resolve":{"axis":{"x":"independent","y":"independent"}},
"layer":[
{"data":{"name":"crv"},"transform":[{"filter":"datum.xbj==='0.200'"}],"mark":{"type":"line","strokeWidth":1.8,"interpolate":"monotone","clip":true},
"encoding":{"x":{"field":"q2","type":"quantitative","scale":{"type":"log","domain":[0.305,340],"nice":false},"axis":{"orient":"bottom","values":[0.4,0.5,0.6,0.7,0.8,0.9,1,2,3,4,5,6,7,8,9,10,20,30,40,50,60,70,80,90,100,200,300],"labels":false,"tickSize":{"condition":{"test":"indexof([1,10,100],datum.value)>=0","value":-10},"value":-5},"title":null}},
"y":{"field":"r","type":"quantitative","scale":{"domain":[-0.5,0.82],"nice":false,"zero":false},"axis":{"orient":"right","values":[-0.5,-0.45,-0.4,-0.35,-0.3,-0.25,-0.2,-0.15,-0.1,-0.05,0,0.05,0.1,0.15,0.2,0.25,0.3,0.35,0.4,0.45,0.5,0.55,0.6,0.65,0.7,0.75,0.8],"labelExpr":"datum.value > -0.4 && abs(datum.value*4-round(datum.value*4)) < 0.001 ? format(datum.value,'.2f') : ''","labelAlign":"right","labelPadding":85,"tickSize":{"condition":{"test":"abs(datum.value*4-round(datum.value*4)) < 0.001","value":-9},"value":-4},"title":null}},
"color":{"field":"series","type":"nominal","legend":null},
"strokeDash":{"field":"series","type":"nominal","legend":null}}},
{"data":{"name":"pts"},"transform":[{"filter":"datum.xbj==='0.200'"}],"mark":{"type":"rule","strokeWidth":1.4,"clip":true},
"encoding":{"x":{"field":"q2","type":"quantitative","scale":{"type":"log","domain":[0.305,340],"nice":false},"axis":{"orient":"top","values":[0.4,0.5,0.6,0.7,0.8,0.9,1,2,3,4,5,6,7,8,9,10,20,30,40,50,60,70,80,90,100,200,300],"labels":false,"tickSize":{"condition":{"test":"indexof([1,10,100],datum.value)>=0","value":-10},"value":-5},"title":null}},
"y":{"field":"lo","type":"quantitative","scale":{"domain":[-0.5,0.82],"nice":false,"zero":false},"axis":{"orient":"left","values":[-0.5,-0.45,-0.4,-0.35,-0.3,-0.25,-0.2,-0.15,-0.1,-0.05,0,0.05,0.1,0.15,0.2,0.25,0.3,0.35,0.4,0.45,0.5,0.55,0.6,0.65,0.7,0.75,0.8],"labels":false,"tickSize":{"condition":{"test":"abs(datum.value*4-round(datum.value*4)) < 0.001","value":-9},"value":-4},"title":null}},
"y2":{"field":"hi"},"color":{"field":"series","type":"nominal","legend":null}}},
{"data":{"name":"pts"},"transform":[{"filter":"datum.xbj==='0.200'"}],"mark":{"type":"tick","orient":"horizontal","size":10,"thickness":1.4,"clip":true},
"encoding":{"x":{"field":"q2","type":"quantitative","scale":{"type":"log","domain":[0.305,340],"nice":false},"axis":null},"y":{"field":"lo","type":"quantitative","scale":{"domain":[-0.5,0.82],"nice":false,"zero":false},"axis":null},"color":{"field":"series","type":"nominal","legend":null}}},
{"data":{"name":"pts"},"transform":[{"filter":"datum.xbj==='0.200'"}],"mark":{"type":"tick","orient":"horizontal","size":10,"thickness":1.4,"clip":true},
"encoding":{"x":{"field":"q2","type":"quantitative","scale":{"type":"log","domain":[0.305,340],"nice":false},"axis":null},"y":{"field":"hi","type":"quantitative","scale":{"domain":[-0.5,0.82],"nice":false,"zero":false},"axis":null},"color":{"field":"series","type":"nominal","legend":null}}},
{"data":{"name":"pts"},"transform":[{"filter":"datum.xbj==='0.200'"}],"mark":{"type":"point","filled":true,"opacity":1,"clip":true},
"encoding":{"x":{"field":"q2","type":"quantitative","scale":{"type":"log","domain":[0.305,340],"nice":false},"axis":null},"y":{"field":"r","type":"quantitative","scale":{"domain":[-0.5,0.82],"nice":false,"zero":false},"axis":null},"color":{"field":"series","type":"nominal","legend":null},"shape":{"field":"series","type":"nominal","legend":null},"size":{"field":"series","type":"nominal","legend":null}}},
{"data":{"values":[{}]},"mark":{"type":"text","font":"DejaVu Sans","fontSize":17,"color":"#3c3c3c","align":"center","baseline":"middle","text":"X\u00a0=\u00a0\u00a0\u00a0\u00a00.200"},
"encoding":{"x":{"datum":47,"type":"quantitative","scale":{"type":"log","domain":[0.305,340],"nice":false},"axis":null},"y":{"datum":0.4,"type":"quantitative","scale":{"domain":[-0.5,0.82],"nice":false,"zero":false},"axis":null}}}
]},
{"width":386,"height":270,"resolve":{"axis":{"x":"independent","y":"independent"}},
"layer":[
{"data":{"name":"crv"},"transform":[{"filter":"datum.xbj==='0.045'"}],"mark":{"type":"line","strokeWidth":1.8,"interpolate":"monotone","clip":true},
"encoding":{"x":{"field":"q2","type":"quantitative","scale":{"type":"log","domain":[0.29,345],"nice":false},"axis":{"orient":"bottom","values":[0.3,0.4,0.5,0.6,0.7,0.8,0.9,1,2,3,4,5,6,7,8,9,10,20,30,40,50,60,70,80,90,100,200,300],"labels":false,"tickSize":{"condition":{"test":"indexof([1,10,100],datum.value)>=0","value":-10},"value":-5},"title":null}},
"y":{"field":"r","type":"quantitative","scale":{"domain":[-0.5,1.0],"nice":false,"zero":false},"axis":{"orient":"left","values":[-0.5,-0.45,-0.4,-0.35,-0.3,-0.25,-0.2,-0.15,-0.1,-0.05,0,0.05,0.1,0.15,0.2,0.25,0.3,0.35,0.4,0.45,0.5,0.55,0.6,0.65,0.7,0.75,0.8,0.85,0.9,0.95,1.0],"labelExpr":"datum.value > -0.4 && abs(datum.value*4-round(datum.value*4)) < 0.001 ? format(datum.value,'.2f') : ''","labelPadding":17,"tickSize":{"condition":{"test":"abs(datum.value*4-round(datum.value*4)) < 0.001","value":-9},"value":-4},"title":"R","titleX":-74,"titleY":135}},
"color":{"field":"series","type":"nominal","legend":null},
"strokeDash":{"field":"series","type":"nominal","legend":null}}},
{"data":{"name":"pts"},"transform":[{"filter":"datum.xbj==='0.045'"}],"mark":{"type":"rule","strokeWidth":1.4,"clip":true},
"encoding":{"x":{"field":"q2","type":"quantitative","scale":{"type":"log","domain":[0.29,345],"nice":false},"axis":{"orient":"top","values":[0.3,0.4,0.5,0.6,0.7,0.8,0.9,1,2,3,4,5,6,7,8,9,10,20,30,40,50,60,70,80,90,100,200,300],"labels":false,"tickSize":{"condition":{"test":"indexof([1,10,100],datum.value)>=0","value":-10},"value":-5},"title":null}},
"y":{"field":"lo","type":"quantitative","scale":{"domain":[-0.5,1.0],"nice":false,"zero":false},"axis":{"orient":"right","values":[-0.5,-0.45,-0.4,-0.35,-0.3,-0.25,-0.2,-0.15,-0.1,-0.05,0,0.05,0.1,0.15,0.2,0.25,0.3,0.35,0.4,0.45,0.5,0.55,0.6,0.65,0.7,0.75,0.8,0.85,0.9,0.95,1.0],"labels":false,"tickSize":{"condition":{"test":"abs(datum.value*4-round(datum.value*4)) < 0.001","value":-9},"value":-4},"title":null}},
"y2":{"field":"hi"},"color":{"field":"series","type":"nominal","legend":null}}},
{"data":{"name":"pts"},"transform":[{"filter":"datum.xbj==='0.045'"}],"mark":{"type":"tick","orient":"horizontal","size":10,"thickness":1.4,"clip":true},
"encoding":{"x":{"field":"q2","type":"quantitative","scale":{"type":"log","domain":[0.29,345],"nice":false},"axis":null},"y":{"field":"lo","type":"quantitative","scale":{"domain":[-0.5,1.0],"nice":false,"zero":false},"axis":null},"color":{"field":"series","type":"nominal","legend":null}}},
{"data":{"name":"pts"},"transform":[{"filter":"datum.xbj==='0.045'"}],"mark":{"type":"tick","orient":"horizontal","size":10,"thickness":1.4,"clip":true},
"encoding":{"x":{"field":"q2","type":"quantitative","scale":{"type":"log","domain":[0.29,345],"nice":false},"axis":null},"y":{"field":"hi","type":"quantitative","scale":{"domain":[-0.5,1.0],"nice":false,"zero":false},"axis":null},"color":{"field":"series","type":"nominal","legend":null}}},
{"data":{"name":"pts"},"transform":[{"filter":"datum.xbj==='0.045'"}],"mark":{"type":"point","filled":true,"opacity":1,"clip":true},
"encoding":{"x":{"field":"q2","type":"quantitative","scale":{"type":"log","domain":[0.29,345],"nice":false},"axis":null},"y":{"field":"r","type":"quantitative","scale":{"domain":[-0.5,1.0],"nice":false,"zero":false},"axis":null},"color":{"field":"series","type":"nominal","legend":null},"shape":{"field":"series","type":"nominal","legend":null},"size":{"field":"series","type":"nominal","legend":null}}},
{"data":{"values":[{}]},"mark":{"type":"text","font":"DejaVu Sans","fontSize":17,"color":"#3c3c3c","align":"center","baseline":"middle","text":"X\u00a0=\u00a0\u00a0\u00a0\u00a00.045"},
"encoding":{"x":{"datum":47,"type":"quantitative","scale":{"type":"log","domain":[0.29,345],"nice":false},"axis":null},"y":{"datum":0.39,"type":"quantitative","scale":{"domain":[-0.5,1.0],"nice":false,"zero":false},"axis":null}}}
]},
{"width":386,"height":270,"resolve":{"axis":{"x":"independent","y":"independent"}},
"layer":[
{"data":{"name":"crv"},"transform":[{"filter":"datum.xbj==='0.325'"}],"mark":{"type":"line","strokeWidth":1.8,"interpolate":"monotone","clip":true},
"encoding":{"x":{"field":"q2","type":"quantitative","scale":{"type":"log","domain":[0.305,340],"nice":false},"axis":{"orient":"bottom","values":[0.4,0.5,0.6,0.7,0.8,0.9,1,2,3,4,5,6,7,8,9,10,20,30,40,50,60,70,80,90,100,200,300],"labels":false,"tickSize":{"condition":{"test":"indexof([1,10,100],datum.value)>=0","value":-10},"value":-5},"title":null}},
"y":{"field":"r","type":"quantitative","scale":{"domain":[-0.5,0.82],"nice":false,"zero":false},"axis":{"orient":"right","values":[-0.5,-0.45,-0.4,-0.35,-0.3,-0.25,-0.2,-0.15,-0.1,-0.05,0,0.05,0.1,0.15,0.2,0.25,0.3,0.35,0.4,0.45,0.5,0.55,0.6,0.65,0.7,0.75,0.8],"labelExpr":"datum.value > -0.4 && abs(datum.value*4-round(datum.value*4)) < 0.001 ? format(datum.value,'.2f') : ''","labelAlign":"right","labelPadding":85,"tickSize":{"condition":{"test":"abs(datum.value*4-round(datum.value*4)) < 0.001","value":-9},"value":-4},"title":null}},
"color":{"field":"series","type":"nominal","legend":null},
"strokeDash":{"field":"series","type":"nominal","legend":null}}},
{"data":{"name":"pts"},"transform":[{"filter":"datum.xbj==='0.325'"}],"mark":{"type":"rule","strokeWidth":1.4,"clip":true},
"encoding":{"x":{"field":"q2","type":"quantitative","scale":{"type":"log","domain":[0.305,340],"nice":false},"axis":{"orient":"top","values":[0.4,0.5,0.6,0.7,0.8,0.9,1,2,3,4,5,6,7,8,9,10,20,30,40,50,60,70,80,90,100,200,300],"labels":false,"tickSize":{"condition":{"test":"indexof([1,10,100],datum.value)>=0","value":-10},"value":-5},"title":null}},
"y":{"field":"lo","type":"quantitative","scale":{"domain":[-0.5,0.82],"nice":false,"zero":false},"axis":{"orient":"left","values":[-0.5,-0.45,-0.4,-0.35,-0.3,-0.25,-0.2,-0.15,-0.1,-0.05,0,0.05,0.1,0.15,0.2,0.25,0.3,0.35,0.4,0.45,0.5,0.55,0.6,0.65,0.7,0.75,0.8],"labels":false,"tickSize":{"condition":{"test":"abs(datum.value*4-round(datum.value*4)) < 0.001","value":-9},"value":-4},"title":null}},
"y2":{"field":"hi"},"color":{"field":"series","type":"nominal","legend":null}}},
{"data":{"name":"pts"},"transform":[{"filter":"datum.xbj==='0.325'"}],"mark":{"type":"tick","orient":"horizontal","size":10,"thickness":1.4,"clip":true},
"encoding":{"x":{"field":"q2","type":"quantitative","scale":{"type":"log","domain":[0.305,340],"nice":false},"axis":null},"y":{"field":"lo","type":"quantitative","scale":{"domain":[-0.5,0.82],"nice":false,"zero":false},"axis":null},"color":{"field":"series","type":"nominal","legend":null}}},
{"data":{"name":"pts"},"transform":[{"filter":"datum.xbj==='0.325'"}],"mark":{"type":"tick","orient":"horizontal","size":10,"thickness":1.4,"clip":true},
"encoding":{"x":{"field":"q2","type":"quantitative","scale":{"type":"log","domain":[0.305,340],"nice":false},"axis":null},"y":{"field":"hi","type":"quantitative","scale":{"domain":[-0.5,0.82],"nice":false,"zero":false},"axis":null},"color":{"field":"series","type":"nominal","legend":null}}},
{"data":{"name":"pts"},"transform":[{"filter":"datum.xbj==='0.325'"}],"mark":{"type":"point","filled":true,"opacity":1,"clip":true},
"encoding":{"x":{"field":"q2","type":"quantitative","scale":{"type":"log","domain":[0.305,340],"nice":false},"axis":null},"y":{"field":"r","type":"quantitative","scale":{"domain":[-0.5,0.82],"nice":false,"zero":false},"axis":null},"color":{"field":"series","type":"nominal","legend":null},"shape":{"field":"series","type":"nominal","legend":null},"size":{"field":"series","type":"nominal","legend":null}}},
{"data":{"values":[{}]},"mark":{"type":"text","font":"DejaVu Sans","fontSize":17,"color":"#3c3c3c","align":"center","baseline":"middle","text":"X\u00a0=\u00a0\u00a0\u00a0\u00a00.325"},
"encoding":{"x":{"datum":47,"type":"quantitative","scale":{"type":"log","domain":[0.305,340],"nice":false},"axis":null},"y":{"datum":0.4,"type":"quantitative","scale":{"domain":[-0.5,0.82],"nice":false,"zero":false},"axis":null}}}
]},
{"width":386,"height":270,"resolve":{"axis":{"x":"independent","y":"independent"}},
"layer":[
{"data":{"name":"crv"},"transform":[{"filter":"datum.xbj==='0.080'"}],"mark":{"type":"line","strokeWidth":1.8,"interpolate":"monotone","clip":true},
"encoding":{"x":{"field":"q2","type":"quantitative","scale":{"type":"log","domain":[0.29,345],"nice":false},"axis":{"orient":"bottom","values":[0.3,0.4,0.5,0.6,0.7,0.8,0.9,1,2,3,4,5,6,7,8,9,10,20,30,40,50,60,70,80,90,100,200,300],"labelExpr":"indexof([0.5,1,5,10,50,100], datum.value) >= 0 ? format(datum.value, '.1f') : ''","labelPadding":{"condition":{"test":"indexof([1,10,100],datum.value)>=0","value":19},"value":14},"tickSize":{"condition":{"test":"indexof([1,10,100],datum.value)>=0","value":-10},"value":-5},"title":"Q²"}},
"y":{"field":"r","type":"quantitative","scale":{"domain":[-0.5,0.82],"nice":false,"zero":false},"axis":{"orient":"left","values":[-0.5,-0.45,-0.4,-0.35,-0.3,-0.25,-0.2,-0.15,-0.1,-0.05,0,0.05,0.1,0.15,0.2,0.25,0.3,0.35,0.4,0.45,0.5,0.55,0.6,0.65,0.7,0.75,0.8],"labelExpr":"datum.value > -0.4 && abs(datum.value*4-round(datum.value*4)) < 0.001 ? format(datum.value,'.2f') : ''","labelPadding":17,"tickSize":{"condition":{"test":"abs(datum.value*4-round(datum.value*4)) < 0.001","value":-9},"value":-4},"title":"R","titleX":-74,"titleY":135}},
"color":{"field":"series","type":"nominal","legend":null},
"strokeDash":{"field":"series","type":"nominal","legend":null}}},
{"data":{"name":"pts"},"transform":[{"filter":"datum.xbj==='0.080'"}],"mark":{"type":"rule","strokeWidth":1.4,"clip":true},
"encoding":{"x":{"field":"q2","type":"quantitative","scale":{"type":"log","domain":[0.29,345],"nice":false},"axis":{"orient":"top","values":[0.3,0.4,0.5,0.6,0.7,0.8,0.9,1,2,3,4,5,6,7,8,9,10,20,30,40,50,60,70,80,90,100,200,300],"labels":false,"tickSize":{"condition":{"test":"indexof([1,10,100],datum.value)>=0","value":-10},"value":-5},"title":null}},
"y":{"field":"lo","type":"quantitative","scale":{"domain":[-0.5,0.82],"nice":false,"zero":false},"axis":{"orient":"right","values":[-0.5,-0.45,-0.4,-0.35,-0.3,-0.25,-0.2,-0.15,-0.1,-0.05,0,0.05,0.1,0.15,0.2,0.25,0.3,0.35,0.4,0.45,0.5,0.55,0.6,0.65,0.7,0.75,0.8],"labels":false,"tickSize":{"condition":{"test":"abs(datum.value*4-round(datum.value*4)) < 0.001","value":-9},"value":-4},"title":null}},
"y2":{"field":"hi"},"color":{"field":"series","type":"nominal","legend":null}}},
{"data":{"name":"pts"},"transform":[{"filter":"datum.xbj==='0.080'"}],"mark":{"type":"tick","orient":"horizontal","size":10,"thickness":1.4,"clip":true},
"encoding":{"x":{"field":"q2","type":"quantitative","scale":{"type":"log","domain":[0.29,345],"nice":false},"axis":null},"y":{"field":"lo","type":"quantitative","scale":{"domain":[-0.5,0.82],"nice":false,"zero":false},"axis":null},"color":{"field":"series","type":"nominal","legend":null}}},
{"data":{"name":"pts"},"transform":[{"filter":"datum.xbj==='0.080'"}],"mark":{"type":"tick","orient":"horizontal","size":10,"thickness":1.4,"clip":true},
"encoding":{"x":{"field":"q2","type":"quantitative","scale":{"type":"log","domain":[0.29,345],"nice":false},"axis":null},"y":{"field":"hi","type":"quantitative","scale":{"domain":[-0.5,0.82],"nice":false,"zero":false},"axis":null},"color":{"field":"series","type":"nominal","legend":null}}},
{"data":{"name":"pts"},"transform":[{"filter":"datum.xbj==='0.080'"}],"mark":{"type":"point","filled":true,"opacity":1,"clip":true},
"encoding":{"x":{"field":"q2","type":"quantitative","scale":{"type":"log","domain":[0.29,345],"nice":false},"axis":null},"y":{"field":"r","type":"quantitative","scale":{"domain":[-0.5,0.82],"nice":false,"zero":false},"axis":null},"color":{"field":"series","type":"nominal","legend":null},"shape":{"field":"series","type":"nominal","legend":null},"size":{"field":"series","type":"nominal","legend":null}}},
{"data":{"values":[{}]},"mark":{"type":"text","font":"DejaVu Sans","fontSize":17,"color":"#3c3c3c","align":"center","baseline":"middle","text":"X\u00a0=\u00a0\u00a0\u00a0\u00a00.080"},
"encoding":{"x":{"datum":47,"type":"quantitative","scale":{"type":"log","domain":[0.29,345],"nice":false},"axis":null},"y":{"datum":0.39,"type":"quantitative","scale":{"domain":[-0.5,0.82],"nice":false,"zero":false},"axis":null}}}
]},
{"width":386,"height":270,"resolve":{"axis":{"x":"independent","y":"independent"}},
"layer":[
{"data":{"name":"crv"},"transform":[{"filter":"datum.xbj==='0.500'"}],"mark":{"type":"line","strokeWidth":1.8,"interpolate":"monotone","clip":true},
"encoding":{"x":{"field":"q2","type":"quantitative","scale":{"type":"log","domain":[0.305,340],"nice":false},"axis":{"orient":"bottom","values":[0.4,0.5,0.6,0.7,0.8,0.9,1,2,3,4,5,6,7,8,9,10,20,30,40,50,60,70,80,90,100,200,300],"labelExpr":"indexof([0.5,1,5,10,50,100], datum.value) >= 0 ? format(datum.value, '.1f') : ''","labelPadding":{"condition":{"test":"indexof([1,10,100],datum.value)>=0","value":19},"value":14},"tickSize":{"condition":{"test":"indexof([1,10,100],datum.value)>=0","value":-10},"value":-5},"title":"Q²"}},
"y":{"field":"r","type":"quantitative","scale":{"domain":[-0.5,0.82],"nice":false,"zero":false},"axis":{"orient":"right","values":[-0.5,-0.45,-0.4,-0.35,-0.3,-0.25,-0.2,-0.15,-0.1,-0.05,0,0.05,0.1,0.15,0.2,0.25,0.3,0.35,0.4,0.45,0.5,0.55,0.6,0.65,0.7,0.75,0.8],"labelExpr":"abs(datum.value*4-round(datum.value*4)) < 0.001 ? format(datum.value,'.2f') : ''","labelAlign":"right","labelPadding":85,"tickSize":{"condition":{"test":"abs(datum.value*4-round(datum.value*4)) < 0.001","value":-9},"value":-4},"title":null}},
"color":{"field":"series","type":"nominal","legend":null},
"strokeDash":{"field":"series","type":"nominal","legend":null}}},
{"data":{"name":"pts"},"transform":[{"filter":"datum.xbj==='0.500'"}],"mark":{"type":"rule","strokeWidth":1.4,"clip":true},
"encoding":{"x":{"field":"q2","type":"quantitative","scale":{"type":"log","domain":[0.305,340],"nice":false},"axis":{"orient":"top","values":[0.4,0.5,0.6,0.7,0.8,0.9,1,2,3,4,5,6,7,8,9,10,20,30,40,50,60,70,80,90,100,200,300],"labels":false,"tickSize":{"condition":{"test":"indexof([1,10,100],datum.value)>=0","value":-10},"value":-5},"title":null}},
"y":{"field":"lo","type":"quantitative","scale":{"domain":[-0.5,0.82],"nice":false,"zero":false},"axis":{"orient":"left","values":[-0.5,-0.45,-0.4,-0.35,-0.3,-0.25,-0.2,-0.15,-0.1,-0.05,0,0.05,0.1,0.15,0.2,0.25,0.3,0.35,0.4,0.45,0.5,0.55,0.6,0.65,0.7,0.75,0.8],"labels":false,"tickSize":{"condition":{"test":"abs(datum.value*4-round(datum.value*4)) < 0.001","value":-9},"value":-4},"title":null}},
"y2":{"field":"hi"},"color":{"field":"series","type":"nominal","legend":null}}},
{"data":{"name":"pts"},"transform":[{"filter":"datum.xbj==='0.500'"}],"mark":{"type":"tick","orient":"horizontal","size":10,"thickness":1.4,"clip":true},
"encoding":{"x":{"field":"q2","type":"quantitative","scale":{"type":"log","domain":[0.305,340],"nice":false},"axis":null},"y":{"field":"lo","type":"quantitative","scale":{"domain":[-0.5,0.82],"nice":false,"zero":false},"axis":null},"color":{"field":"series","type":"nominal","legend":null}}},
{"data":{"name":"pts"},"transform":[{"filter":"datum.xbj==='0.500'"}],"mark":{"type":"tick","orient":"horizontal","size":10,"thickness":1.4,"clip":true},
"encoding":{"x":{"field":"q2","type":"quantitative","scale":{"type":"log","domain":[0.305,340],"nice":false},"axis":null},"y":{"field":"hi","type":"quantitative","scale":{"domain":[-0.5,0.82],"nice":false,"zero":false},"axis":null},"color":{"field":"series","type":"nominal","legend":null}}},
{"data":{"name":"pts"},"transform":[{"filter":"datum.xbj==='0.500'"}],"mark":{"type":"point","filled":true,"opacity":1,"clip":true},
"encoding":{"x":{"field":"q2","type":"quantitative","scale":{"type":"log","domain":[0.305,340],"nice":false},"axis":null},"y":{"field":"r","type":"quantitative","scale":{"domain":[-0.5,0.82],"nice":false,"zero":false},"axis":null},"color":{"field":"series","type":"nominal","legend":null},"shape":{"field":"series","type":"nominal","legend":null},"size":{"field":"series","type":"nominal","legend":null}}},
{"data":{"values":[{}]},"mark":{"type":"text","font":"DejaVu Sans","fontSize":17,"color":"#3c3c3c","align":"center","baseline":"middle","text":"X\u00a0=\u00a0\u00a0\u00a0\u00a00.500"},
"encoding":{"x":{"datum":47,"type":"quantitative","scale":{"type":"log","domain":[0.305,340],"nice":false},"axis":null},"y":{"datum":0.4,"type":"quantitative","scale":{"domain":[-0.5,0.82],"nice":false,"zero":false},"axis":null}}}
]}
],
"config":{
"view":{"stroke":"#5b4c44","strokeWidth":1.5},
"axis":{"domain":false,"grid":false,"labelFont":"DejaVu Sans","labelFontSize":16,"labelColor":"#3a3a3a","labelOverlap":false,"labelFlush":false,"labelBound":false,"tickColor":"#5b4c44","tickWidth":1.2,"titleFont":"DejaVu Serif","titleFontSize":22,"titleFontWeight":"normal","titleColor":"#3a3a3a","titlePadding":10}
}
}
